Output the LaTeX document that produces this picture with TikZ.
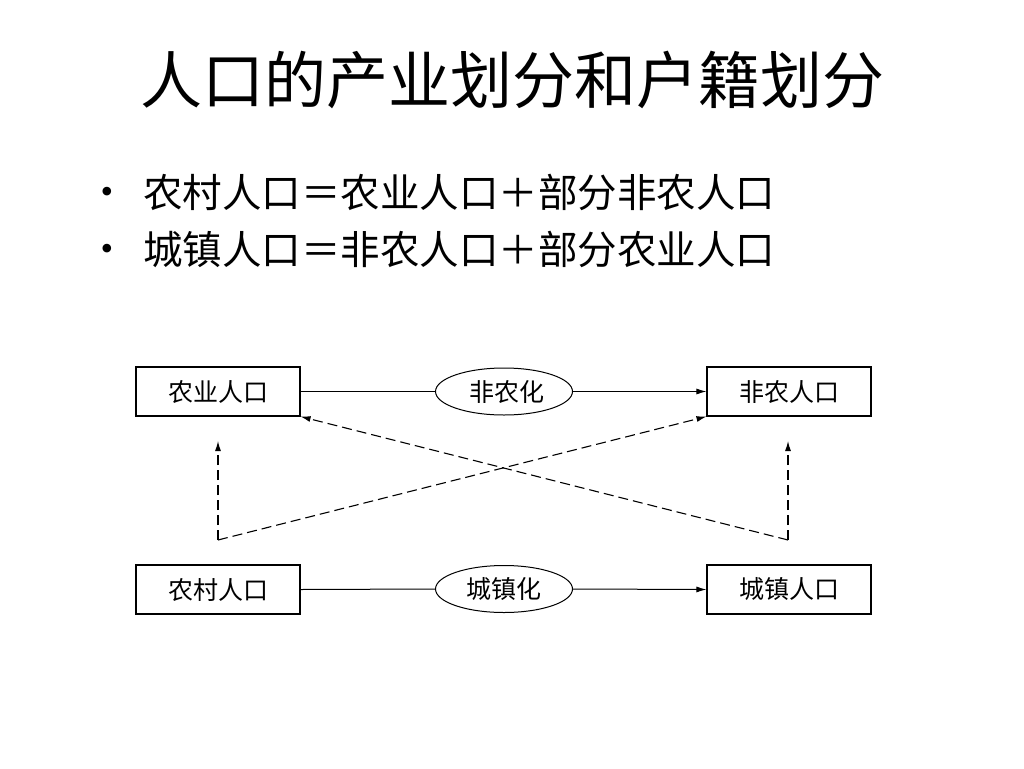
\documentclass[tikz,border=0pt]{standalone}
\usepackage{fontspec}
\setmainfont{Noto Sans CJK SC}
\newfontfamily\bulletfont{Liberation Serif}
\usetikzlibrary{shapes.geometric,arrows.meta}
\begin{document}
\begin{tikzpicture}[x=1pt,y=-1pt,
  box/.style={draw,line width=1.1pt,minimum width=164pt,minimum height=49pt,inner sep=0pt,font=\fontsize{25}{25}\selectfont},
  oval/.style={draw,ellipse,line width=1pt,minimum width=137pt,minimum height=47pt,inner sep=0pt,font=\fontsize{25}{25}\selectfont},
  conn/.style={line width=1pt},
  arr/.style={-{Latex[length=10pt,width=6pt]}},
  dashline/.style={line width=1.1pt,dash pattern=on 10pt off 5pt},
  bullettext/.style={anchor=west,inner sep=0pt,font=\fontsize{39.5}{39.5}\selectfont},
  bulletmark/.style={inner sep=0pt,font=\bulletfont\fontsize{36}{36}\selectfont}
]
\useasboundingbox (0,0) rectangle (1024,768);
\node[inner sep=0pt,font=\fontsize{62}{62}\selectfont] (title) at (512,80) {人口的产业划分和户籍划分};
\node[bulletmark] (b1) at (107,195) {•};
\node[bullettext] (t1) at (143,192) {农村人口＝农业人口＋部分非农人口};
\node[bulletmark] (b2) at (107,252) {•};
\node[bullettext] (t2) at (143,249) {城镇人口＝非农人口＋部分农业人口};

\node[box] (ny) at (218,391.5) {农业人口};
\node[box] (fn) at (789,391.5) {非农人口};
\node[box] (nc) at (218,589.5) {农村人口};
\node[box] (cz) at (789,589.5) {城镇人口};
\node[oval] (e1) at (504,391.5) {\hspace*{6pt}非农化};
\node[oval] (e2) at (504,589) {城镇化};

\draw[conn] (ny.east) -- (e1.west);
\draw[conn,arr] (e1.east) -- (fn.west);
\draw[conn] (nc.east) -- (e2.west);
\draw[conn,arr] (e2.east) -- (cz.west);

\coordinate (bl) at (218,540);
\coordinate (br) at (788,540);
\coordinate (tl) at (218,441);
\coordinate (tr) at (788,441);
\draw[dashline,arr] (bl) -- (tl);
\draw[dashline,arr] (bl) -- (fn.south west);
\draw[dashline,arr] (br) -- (tr);
\draw[dashline,arr] (br) -- (ny.south east);
\end{tikzpicture}
\end{document}
